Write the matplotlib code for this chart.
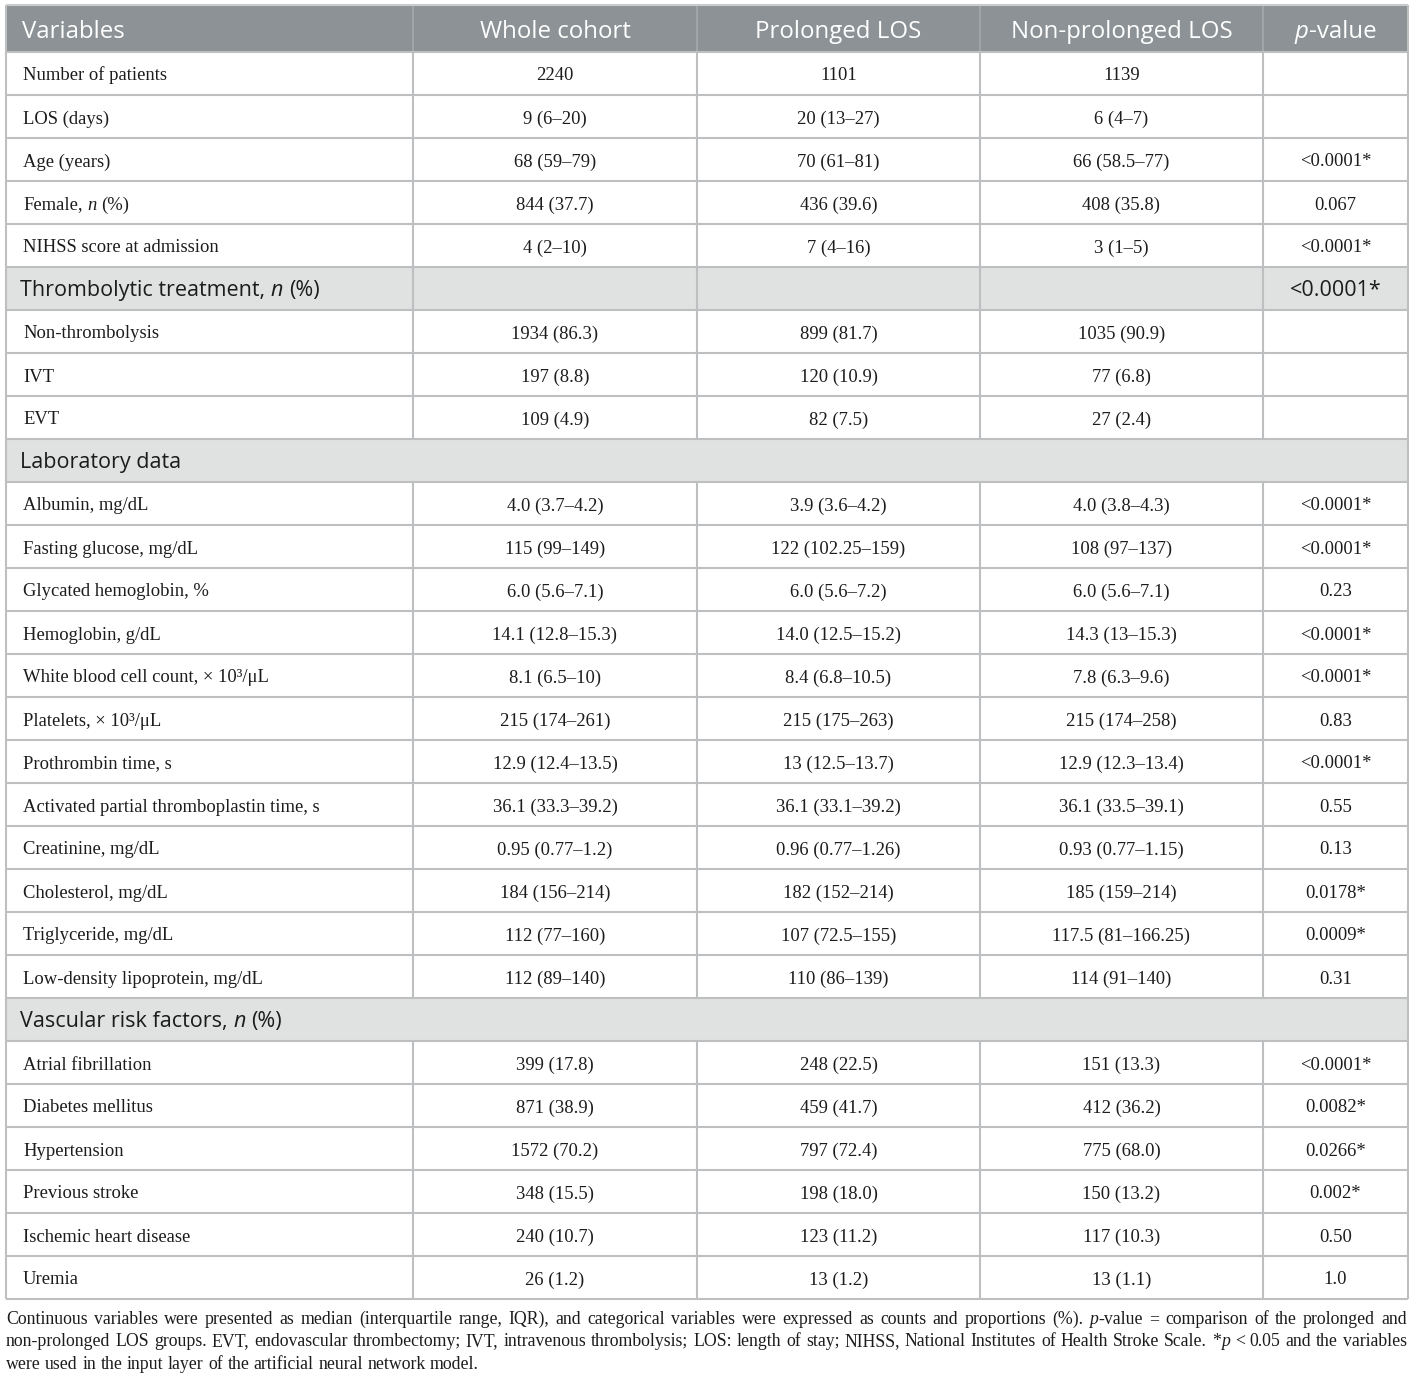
import matplotlib
matplotlib.use('Agg')
import matplotlib.pyplot as plt
from matplotlib.patches import Rectangle

W, H = 1414, 1380

# table content
header = ['Variables', 'Whole cohort', 'Prolonged LOS', 'Non-prolonged LOS', '_p_-value']

labels = ['Number of patients', 'LOS (days)', 'Age (years)', 'Female, _n_ (%)', 'NIHSS score at admission',
          'Thrombolytic treatment, _n_ (%)', 'Non-thrombolysis', 'IVT', 'EVT',
          'Laboratory data', 'Albumin, mg/dL', 'Fasting glucose, mg/dL', 'Glycated hemoglobin, %',
          'Hemoglobin, g/dL', 'White blood cell count, \u00d7 10\u00b3/\u03bcL', 'Platelets, \u00d7 10\u00b3/\u03bcL',
          'Prothrombin time, s', 'Activated partial thromboplastin time, s', 'Creatinine, mg/dL',
          'Cholesterol, mg/dL', 'Triglyceride, mg/dL', 'Low-density lipoprotein, mg/dL',
          'Vascular risk factors, _n_ (%)', 'Atrial fibrillation', 'Diabetes mellitus', 'Hypertension',
          'Previous stroke', 'Ischemic heart disease', 'Uremia']

whole = ['2240', '9 (6\u201320)', '68 (59\u201379)', '844 (37.7)', '4 (2\u201310)',
         '', '1934 (86.3)', '197 (8.8)', '109 (4.9)',
         '', '4.0 (3.7\u20134.2)', '115 (99\u2013149)', '6.0 (5.6\u20137.1)', '14.1 (12.8\u201315.3)',
         '8.1 (6.5\u201310)', '215 (174\u2013261)', '12.9 (12.4\u201313.5)', '36.1 (33.3\u201339.2)',
         '0.95 (0.77\u20131.2)', '184 (156\u2013214)', '112 (77\u2013160)', '112 (89\u2013140)',
         '', '399 (17.8)', '871 (38.9)', '1572 (70.2)', '348 (15.5)', '240 (10.7)', '26 (1.2)']

prolonged = ['1101', '20 (13\u201327)', '70 (61\u201381)', '436 (39.6)', '7 (4\u201316)',
             '', '899 (81.7)', '120 (10.9)', '82 (7.5)',
             '', '3.9 (3.6\u20134.2)', '122 (102.25\u2013159)', '6.0 (5.6\u20137.2)', '14.0 (12.5\u201315.2)',
             '8.4 (6.8\u201310.5)', '215 (175\u2013263)', '13 (12.5\u201313.7)', '36.1 (33.1\u201339.2)',
             '0.96 (0.77\u20131.26)', '182 (152\u2013214)', '107 (72.5\u2013155)', '110 (86\u2013139)',
             '', '248 (22.5)', '459 (41.7)', '797 (72.4)', '198 (18.0)', '123 (11.2)', '13 (1.2)']

nonprolonged = ['1139', '6 (4\u20137)', '66 (58.5\u201377)', '408 (35.8)', '3 (1\u20135)',
                '', '1035 (90.9)', '77 (6.8)', '27 (2.4)',
                '', '4.0 (3.8\u20134.3)', '108 (97\u2013137)', '6.0 (5.6\u20137.1)', '14.3 (13\u201315.3)',
                '7.8 (6.3\u20139.6)', '215 (174\u2013258)', '12.9 (12.3\u201313.4)', '36.1 (33.5\u201339.1)',
                '0.93 (0.77\u20131.15)', '185 (159\u2013214)', '117.5 (81\u2013166.25)', '114 (91\u2013140)',
                '', '151 (13.3)', '412 (36.2)', '775 (68.0)', '150 (13.2)', '117 (10.3)', '13 (1.1)']

pvals = ['', '', '<0.0001*', '0.067', '<0.0001*',
         '<0.0001*', '', '', '',
         '', '<0.0001*', '<0.0001*', '0.23', '<0.0001*', '<0.0001*', '0.83', '<0.0001*', '0.55',
         '0.13', '0.0178*', '0.0009*', '0.31',
         '', '<0.0001*', '0.0082*', '0.0266*', '0.002*', '0.50', '1.0']

# 0 = normal row, 1 = section row with cells, 2 = section row spanning full width
row_kind = [0, 0, 0, 0, 0, 1, 0, 0, 0, 2] + [0] * 12 + [2] + [0] * 6

caption = [
    'Continuous variables were presented as median (interquartile range, IQR), and categorical variables were '
    'expressed as counts and proportions (%). _p_-value = comparison of the prolonged and',
    'non-prolonged LOS groups. EVT, endovascular thrombectomy; IVT, intravenous thrombolysis; LOS: length of '
    'stay; NIHSS, National Institutes of Health Stroke Scale. *_p_ < 0.05 and the variables',
    'were used in the input layer of the artificial neural network model.',
]

# layout
col_x = [6, 413, 697, 980, 1263, 1408]
top, head_h, row_h = 5, 47, 43
line_c = '#bdbfc0'
head_bg = '#8c9295'
sect_bg = '#e0e2e2'
txt_c = '#1c1c1c'

serif = 'Liberation Serif'
sans = 'Open Sans'
body_fs = 13.4
head_fs = 17.3
sect_fs = 15.5
cap_fs = 12.8

fig = plt.figure(figsize=(W / 100, H / 100), dpi=100)
ax = fig.add_axes([0, 0, 1, 1])
ax.set_xlim(0, W)
ax.set_ylim(H, 0)
ax.axis('off')
renderer = fig.canvas.get_renderer()


def width_of(s, **kw):
    t = ax.text(0, 0, s, **kw)
    w = t.get_window_extent(renderer).width
    t.remove()
    return w


def runs_of(s, family, size, color):
    # '_' toggles italic
    parts = s.split('_')
    out = []
    for i, p in enumerate(parts):
        if p:
            out.append((p, dict(family=family, size=size, color=color,
                                style='italic' if i % 2 else 'normal')))
    return out


def draw_runs(x, y, runs, ha='left'):
    ws = []
    for s, kw in runs:
        lead = len(s) - len(s.lstrip(' '))
        trail = len(s) - len(s.rstrip(' '))
        sp = width_of('a a', **kw) - width_of('aa', **kw)
        core = s.strip(' ')
        ws.append((lead * sp, width_of(core, **kw) if core else 0, trail * sp, core, kw))
    total = sum(a + b + c for a, b, c, _, _ in ws)
    if ha == 'center':
        x = x - total / 2
    for a, b, c, core, kw in ws:
        x += a
        if core:
            ax.text(x, y, core, va='baseline', ha='left', **kw)
        x += b + c
    return total


# header
ax.add_patch(Rectangle((col_x[0], top), col_x[-1] - col_x[0], head_h, facecolor=head_bg, edgecolor='none'))
hb = top + head_h / 2 + 9
for j, h in enumerate(header):
    runs = runs_of(h, sans, head_fs, 'white')
    if j == 0:
        draw_runs(col_x[0] + 16, hb, runs)
    else:
        draw_runs((col_x[j] + col_x[j + 1]) / 2, hb, runs, ha='center')
for xv in col_x[1:-1]:
    ax.plot([xv, xv], [top, top + head_h], color='#a2a6a9', lw=1.4, solid_capstyle='butt')

# body rows
y0 = top + head_h
cols = [whole, prolonged, nonprolonged, pvals]
for i, lab in enumerate(labels):
    ya = y0 + i * row_h
    yc = ya + row_h / 2
    kind = row_kind[i]
    if kind:
        ax.add_patch(Rectangle((col_x[0], ya), col_x[-1] - col_x[0], row_h, facecolor=sect_bg, edgecolor='none'))
        draw_runs(col_x[0] + 14, yc + 7.5, runs_of(lab, sans, sect_fs, txt_c))
        if kind == 1:
            draw_runs((col_x[4] + col_x[5]) / 2, yc + 7.5, runs_of(pvals[i], sans, sect_fs, txt_c), ha='center')
    else:
        draw_runs(col_x[0] + 17, yc + 7, runs_of(lab, serif, body_fs, txt_c))
        for j, col in enumerate(cols):
            if col[i]:
                draw_runs((col_x[j + 1] + col_x[j + 2]) / 2, yc + 7,
                          runs_of(col[i], serif, body_fs, txt_c), ha='center')
    # horizontal line at top of the row
    ax.plot([col_x[0], col_x[-1]], [ya, ya], color=line_c, lw=1.5, solid_capstyle='butt')
    if kind != 2:
        for xv in col_x[1:-1]:
            ax.plot([xv, xv], [ya, ya + row_h], color=line_c, lw=1.5, solid_capstyle='butt')

bottom = y0 + len(labels) * row_h
ax.plot([col_x[0], col_x[-1]], [bottom, bottom], color=line_c, lw=1.5, solid_capstyle='butt')
ax.plot([col_x[0], col_x[0]], [top, bottom], color=line_c, lw=1.5, solid_capstyle='butt')
ax.plot([col_x[-1], col_x[-1]], [top, bottom], color=line_c, lw=1.5, solid_capstyle='butt')
ax.plot([col_x[0], col_x[-1]], [top, top], color='#c9cbcc', lw=1.5, solid_capstyle='butt')

# caption, justified except last line
cap_l, cap_r = 6, 1407
for k, line in enumerate(caption):
    yb = bottom + 25 + k * 22.5
    words = line.split(' ')
    wruns = [runs_of(w, serif, cap_fs, txt_c) for w in words]
    widths = []
    for r in wruns:
        widths.append(sum(width_of(s, **kw) for s, kw in r))
    kw0 = dict(family=serif, size=cap_fs)
    sp = width_of('a a', **kw0) - width_of('aa', **kw0)
    if k < len(caption) - 1:
        gap = (cap_r - cap_l - sum(widths)) / (len(words) - 1)
    else:
        gap = sp
    x = cap_l
    for r, w in zip(wruns, widths):
        xx = x
        for s, kw in r:
            ax.text(xx, yb, s, va='baseline', ha='left', **kw)
            xx += width_of(s, **kw)
        x += w + gap

fig.savefig('out.png', dpi=100)
